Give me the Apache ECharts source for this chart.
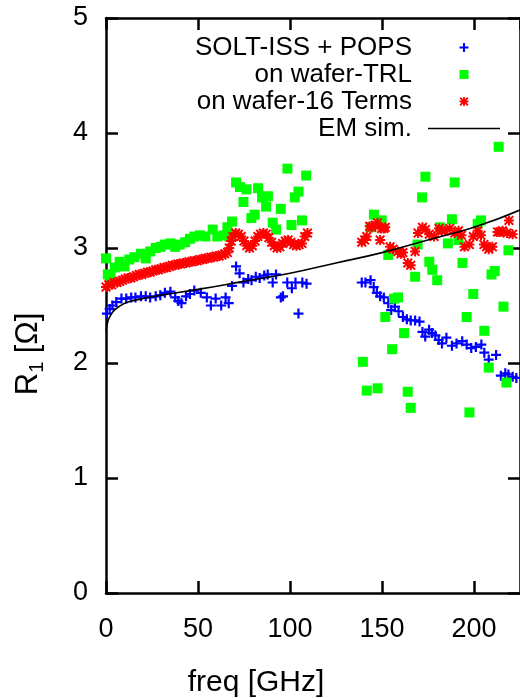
<!DOCTYPE html>
<html><head><meta charset="utf-8">
<script src="https://cdn.jsdelivr.net/npm/echarts@6/dist/echarts.min.js"></script>
<style>html,body{margin:0;padding:0;background:#fff}#c{width:520px;height:698px}</style>
</head><body><div id="c"></div>
<script>
// ---- data (freq GHz, R1 ohm) ----
const soltIssPops = [
 [0.5,2.43],[2,2.47],[3.5,2.50],[5.6,2.53],[8.4,2.56],[11,2.56],[13.7,2.57],[16,2.57],[19,2.58],[21.6,2.58],
 [24,2.57],[27,2.58],[29.5,2.59],[32,2.61],[35,2.62],[37.6,2.57],[39.3,2.54],[41,2.52],[43.5,2.58],[45.6,2.60],
 [48,2.63],[51.5,2.61],[54.8,2.57],[57,2.50],[59.6,2.56],[62.6,2.50],[65,2.57],[66.7,2.52],[68.5,2.67],[70.7,2.84],
 [72.6,2.78],[74.7,2.70],[77.3,2.73],[79.1,2.72],[81.4,2.75],[83.5,2.74],[86,2.76],[87.9,2.77],[90.6,2.70],[92.4,2.77],
 [95,2.57],[96.2,2.58],[98.5,2.70],[101,2.65],[103,2.70],[104.6,2.43],[106.7,2.70],[109,2.69],
 [139,2.70],[141,2.70],[143.8,2.72],[145.5,2.66],[147.2,2.61],[149,2.58],[151,2.57],[153.4,2.52],[155,2.46],[157,2.49],
 [159,2.45],[161.4,2.40],[163.5,2.38],[165.6,2.37],[168,2.37],[170.4,2.36],[172,2.27],[173.5,2.23],[175.6,2.29],[177.2,2.26],
 [179,2.24],[180.8,2.20],[182.6,2.17],[185,2.22],[188,2.15],[190.5,2.17],[193.6,2.19],[196,2.16],[198.5,2.13],[201,2.14],
 [204,2.16],[205.6,2.09],[208,2.03],[212,2.07],[214.6,1.89],[217,1.91],[218.7,1.90],[221,1.88],[223,1.87]
];
const onWaferTRL = [
 [0,2.91],[1,2.77],[2.5,2.75],[4.8,2.83],[7.4,2.88],[10,2.84],[12.7,2.90],[15.4,2.92],[19,2.95],[21.6,2.91],
 [24,2.97],[27,3.00],[29.7,3.01],[32,3.03],[35,3.04],[37.6,3.01],[40,3.03],[43,3.05],[45.6,3.08],[48,3.10],
 [51,3.11],[54,3.10],[58,3.16],[60.5,3.10],[64,3.11],[66,3.18],[67,3.10],[68.5,3.23],[70.7,3.57],[72.8,3.53],
 [74.7,3.40],[76.4,3.51],[79,3.26],[80.8,3.29],[82.6,3.52],[84.8,3.44],[87,3.36],[88,3.45],[90.6,3.22],[92.4,3.16],
 [95,3.34],[98.6,3.69],[100.8,3.20],[102.6,3.44],[104.6,3.49],[106.5,3.24],[108.8,3.63],
 [139.6,2.01],[141.7,1.76],[143.8,3.18],[145.6,3.29],[147.6,1.78],[149.8,3.24],[151.8,2.40],[153.4,2.94],[155.5,2.12],[156.5,2.56],
 [158.7,2.57],[162,2.26],[164,1.75],[165.6,1.61],[168,2.75],[169.3,3.03],[171.8,3.44],[173.6,3.62],[175.7,2.88],[177.3,2.81],
 [180,2.72],[181.5,3.18],[185.8,3.04],[188,3.25],[189.5,3.57],[191.6,3.07],[193.7,2.87],[196,2.40],[197.5,1.57],[199.6,2.60],
 [202,3.21],[203.8,3.24],[205.6,2.28],[208,1.96],[209.5,2.77],[211.3,2.80],[213.4,3.88],[216,2.49],[217.6,1.83],[218.7,2.98]
];
const onWafer16Terms = [
 [0,2.66],[1.5,2.68],[3,2.68],[4.5,2.70],[6,2.70],[7.5,2.71],[9,2.72],[10.5,2.73],[12,2.74],[13.5,2.74],
 [15,2.75],[16.5,2.76],[18,2.77],[19.5,2.77],[21,2.78],[22.5,2.79],[24,2.79],[25.5,2.80],[27,2.81],[28.5,2.81],
 [30,2.82],[31.5,2.83],[33,2.83],[34.5,2.84],[36,2.85],[37.5,2.85],[39,2.86],[40.5,2.86],[42,2.87],[43.5,2.87],
 [45,2.88],[46.5,2.88],[48,2.89],[49.5,2.89],[51,2.90],[52.5,2.90],[54,2.91],[55.5,2.91],[57,2.92],[58.5,2.92],
 [60,2.93],[61.5,2.93],[63,2.94],[64.5,2.95],[66,2.96],[67,3.00],[68,3.06],[69,3.10],[70.5,3.13],[72,3.12],
 [73.5,3.10],[75,3.06],[76.5,3.02],[78,3.00],[79.5,3.02],[81,3.06],[82.5,3.10],[84,3.12],[85.5,3.13],[87,3.12],
 [88.5,3.09],[90,3.05],[91.5,3.02],[93,3.00],[94.5,3.01],[96,3.04],[97.5,3.06],[99,3.07],[100.5,3.05],[102,3.03],
 [103.5,3.02],[105,3.03],[106.5,3.04],[108,3.10],[109.5,3.13],
 [139,3.05],[140.6,3.07],[141.7,3.10],[143.3,3.19],[144.4,3.18],[146.5,3.20],[147.5,3.22],[149,3.07],[149.7,3.17],[151,3.17],
 [151.8,3.18],[154.4,3.01],[156,2.99],[158.7,2.97],[160.3,2.95],[161.4,2.96],[164,2.87],[165.6,2.85],[168,2.97],[169.6,3.13],
 [172,3.18],[173.6,3.16],[175.7,3.12],[178.3,3.10],[181,3.17],[182.6,3.15],[184.2,3.15],[186.8,3.17],[189.5,3.13],[191.6,3.15],
 [193.2,3.11],[194.8,3.01],[197.5,3.03],[199.6,3.10],[202,3.15],[203.8,3.11],[205.4,3.03],[206.8,3.01],[208,2.99],[210,3.01],
 [212.8,3.14],[214,3.14],[215.5,3.15],[218,3.13],[219,3.24],[221,3.12]
];
const emSim = [
 [0,2.28],[1,2.36],[2,2.40],[4,2.45],[7,2.49],[12,2.53],[20,2.56],[30,2.59],[50,2.64],[75,2.71],
 [100,2.78],[125,2.87],[150,2.96],[175,3.07],[200,3.18],[225,3.33]
];
const seriesNames = ['SOLT-ISS + POPS','on wafer-TRL','on wafer-16 Terms','EM sim.'];
const xMin = 0, xMax = 225, xStep = 50;
const yMin = 0, yMax = 5, yStep = 1;

const FONT = 'Liberation Sans, Arial, sans-serif';
const plusPath = 'path://M3.9,0H6.1V3.9H10V6.1H6.1V10H3.9V6.1H0V3.9H3.9Z';
const squarePath = 'path://M0,0H10V10H0Z';
const starPath = 'path://M4,0H6V4H10V6H6V10H4V6H0V4H4Z M0,1.4L1.4,0L5,3.6L8.6,0L10,1.4L6.4,5L10,8.6L8.6,10L5,6.4L1.4,10L0,8.6L3.6,5Z';
const linePath = 'path://M0,0H72V1.6H0Z';

const axisLineStyle = {color:'#000', width:2.5};
function xAxisDef(pos, showLabels){
  return {type:'value', position:pos, min:xMin, max:xMax, interval:xStep,
    axisLine:{show:true, onZero:false, lineStyle:axisLineStyle},
    axisTick:{show:true, inside:true, length:12, lineStyle:axisLineStyle},
    axisLabel:{show:showLabels, color:'#000', fontSize:27, fontFamily:FONT, margin:23, showMaxLabel:false},
    splitLine:{show:false}};
}
function yAxisDef(pos, showLabels){
  return {type:'value', position:pos, min:yMin, max:yMax, interval:yStep,
    axisLine:{show:true, onZero:false, lineStyle:axisLineStyle},
    axisTick:{show:true, inside:true, length:12, lineStyle:axisLineStyle},
    axisLabel:{show:showLabels, color:'#000', fontSize:27, fontFamily:FONT, margin:18},
    splitLine:{show:false}};
}

const chart = echarts.init(document.getElementById('c'), null, {renderer:'canvas'});
chart.setOption({
  animation:false,
  backgroundColor:'#fff',
  grid:{left:106, top:18, right:-10, bottom:105, containLabel:false},
  xAxis:[xAxisDef('bottom', true), xAxisDef('top', false)],
  yAxis:[yAxisDef('left', true), yAxisDef('right', false)],
  legend:{orient:'vertical', right:20, top:34, align:'right', itemWidth:72, itemHeight:9, itemGap:0, padding:0,
    selectedMode:false, symbolKeepAspect:true,
    textStyle:{fontSize:26, color:'#000', fontFamily:FONT, lineHeight:27, padding:[0,11,0,0]},
    data:[
      {name:seriesNames[0], icon:plusPath},
      {name:seriesNames[1], icon:squarePath},
      {name:seriesNames[2], icon:starPath},
      {name:seriesNames[3], icon:linePath, itemStyle:{color:'#000'}}
    ]},
  series:[
    {type:'scatter', name:seriesNames[0], data:soltIssPops, symbol:plusPath, symbolSize:10, clip:false,
      itemStyle:{color:'#0000ff', opacity:1}},
    {type:'scatter', name:seriesNames[1], data:onWaferTRL, symbol:squarePath, symbolSize:10, clip:false,
      itemStyle:{color:'#00ff00', opacity:1}},
    {type:'scatter', name:seriesNames[2], data:onWafer16Terms, symbol:starPath, symbolSize:10, clip:false,
      itemStyle:{color:'#ff0000', opacity:1}},
    {type:'line', name:seriesNames[3], data:emSim, smooth:true, symbol:'none', showSymbol:false,
      lineStyle:{color:'#000', width:1.6}, itemStyle:{color:'#000'}}
  ],
  graphic:[
    {type:'text', x:256, y:683, style:{text:'freq [GHz]', fontSize:30, fontFamily:FONT, fill:'#000', align:'center', verticalAlign:'middle'}},
    {type:'text', x:30, y:354, rotation:Math.PI/2,
      style:{text:'{r|R}{s|1}{r| [Ω]}', fill:'#000', align:'center', verticalAlign:'middle',
        rich:{r:{fontSize:31, fontFamily:FONT, fill:'#000', verticalAlign:'bottom', padding:[0,0,3,0]},
              s:{fontSize:20, fontFamily:FONT, fill:'#000', verticalAlign:'bottom'}}}}
  ]
});
</script></body></html>
